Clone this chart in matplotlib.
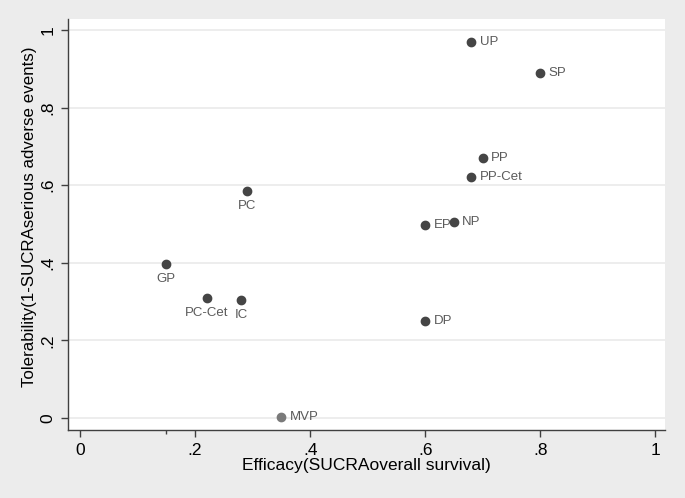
import matplotlib
matplotlib.use("Agg")
import matplotlib.pyplot as plt

plt.rcParams['font.family'] = ['Liberation Sans', 'DejaVu Sans']

labels = ["UP", "SP", "PP", "PP-Cet", "EP", "NP", "PC", "GP", "PC-Cet", "IC", "MVP", "DP"]
efficacy = [0.68, 0.80, 0.70, 0.68, 0.60, 0.65, 0.29, 0.15, 0.22, 0.28, 0.35, 0.60]
tolerability = [0.97, 0.89, 0.67, 0.622, 0.498, 0.505, 0.585, 0.398, 0.31, 0.304, 0.002, 0.251]
positions = ["r", "r", "r", "r", "r", "r", "b", "b", "b", "b", "r", "r"]
xticks = [0, 0.2, 0.4, 0.6, 0.8, 1.0]
xticklabels = ["0", ".2", ".4", ".6", ".8", "1"]
yticks = [0, 0.2, 0.4, 0.6, 0.8, 1.0]
yticklabels = ["0", ".2", ".4", ".6", ".8", "1"]
x_minor = [0.15]

fig = plt.figure(figsize=(6.85, 4.98), dpi=100, facecolor="#ececec")
ax = fig.add_axes([0.0993, 0.1365, 0.8715, 0.8253])
ax.set_facecolor("white")

for lab, x, y, p in zip(labels, efficacy, tolerability, positions):
    mc = "#7a7a7a" if lab == "MVP" else "#454545"
    ax.plot(x, y, "o", color=mc, markersize=6, zorder=3)
    if p == "r":
        ax.annotate(lab, (x, y), xytext=(6, 0), textcoords="offset points",
                    ha="left", va="center", fontsize=9.5, color="#5a5a5a")
    else:
        ax.annotate(lab, (x, y), xytext=(0, -6.5), textcoords="offset points",
                    ha="center", va="top", fontsize=9.5, color="#5a5a5a")

ax.set_xlim(-0.021, 1.017)
ax.set_ylim(-0.031, 1.028)
ax.set_xticks(xticks)
ax.set_xticklabels(xticklabels)
ax.set_xticks(x_minor, minor=True)
ax.set_yticks(yticks)
ax.set_yticklabels(yticklabels, rotation=90, va="center")
ax.grid(axis="y", color="#eaeaea", linewidth=1.2)
ax.set_axisbelow(True)
for s in ["top", "right"]:
    ax.spines[s].set_visible(False)
for s in ["left", "bottom"]:
    ax.spines[s].set_color("#404040")
    ax.spines[s].set_linewidth(1.0)
ax.tick_params(axis="both", which="major", colors="#404040", labelcolor="black", labelsize=12.5, length=5, width=1, pad=4)
ax.tick_params(axis="x", which="minor", colors="#404040", length=3, width=1)
ax.set_xlabel("Efficacy(SUCRAoverall survival)", fontsize=12.5, labelpad=0)
ax.set_ylabel("Tolerability(1-SUCRAserious adverse events)", fontsize=12.2, labelpad=3)
ax.yaxis.set_label_coords(-0.052, 0.52)

fig.savefig("out.png", dpi=100, facecolor=fig.get_facecolor())
